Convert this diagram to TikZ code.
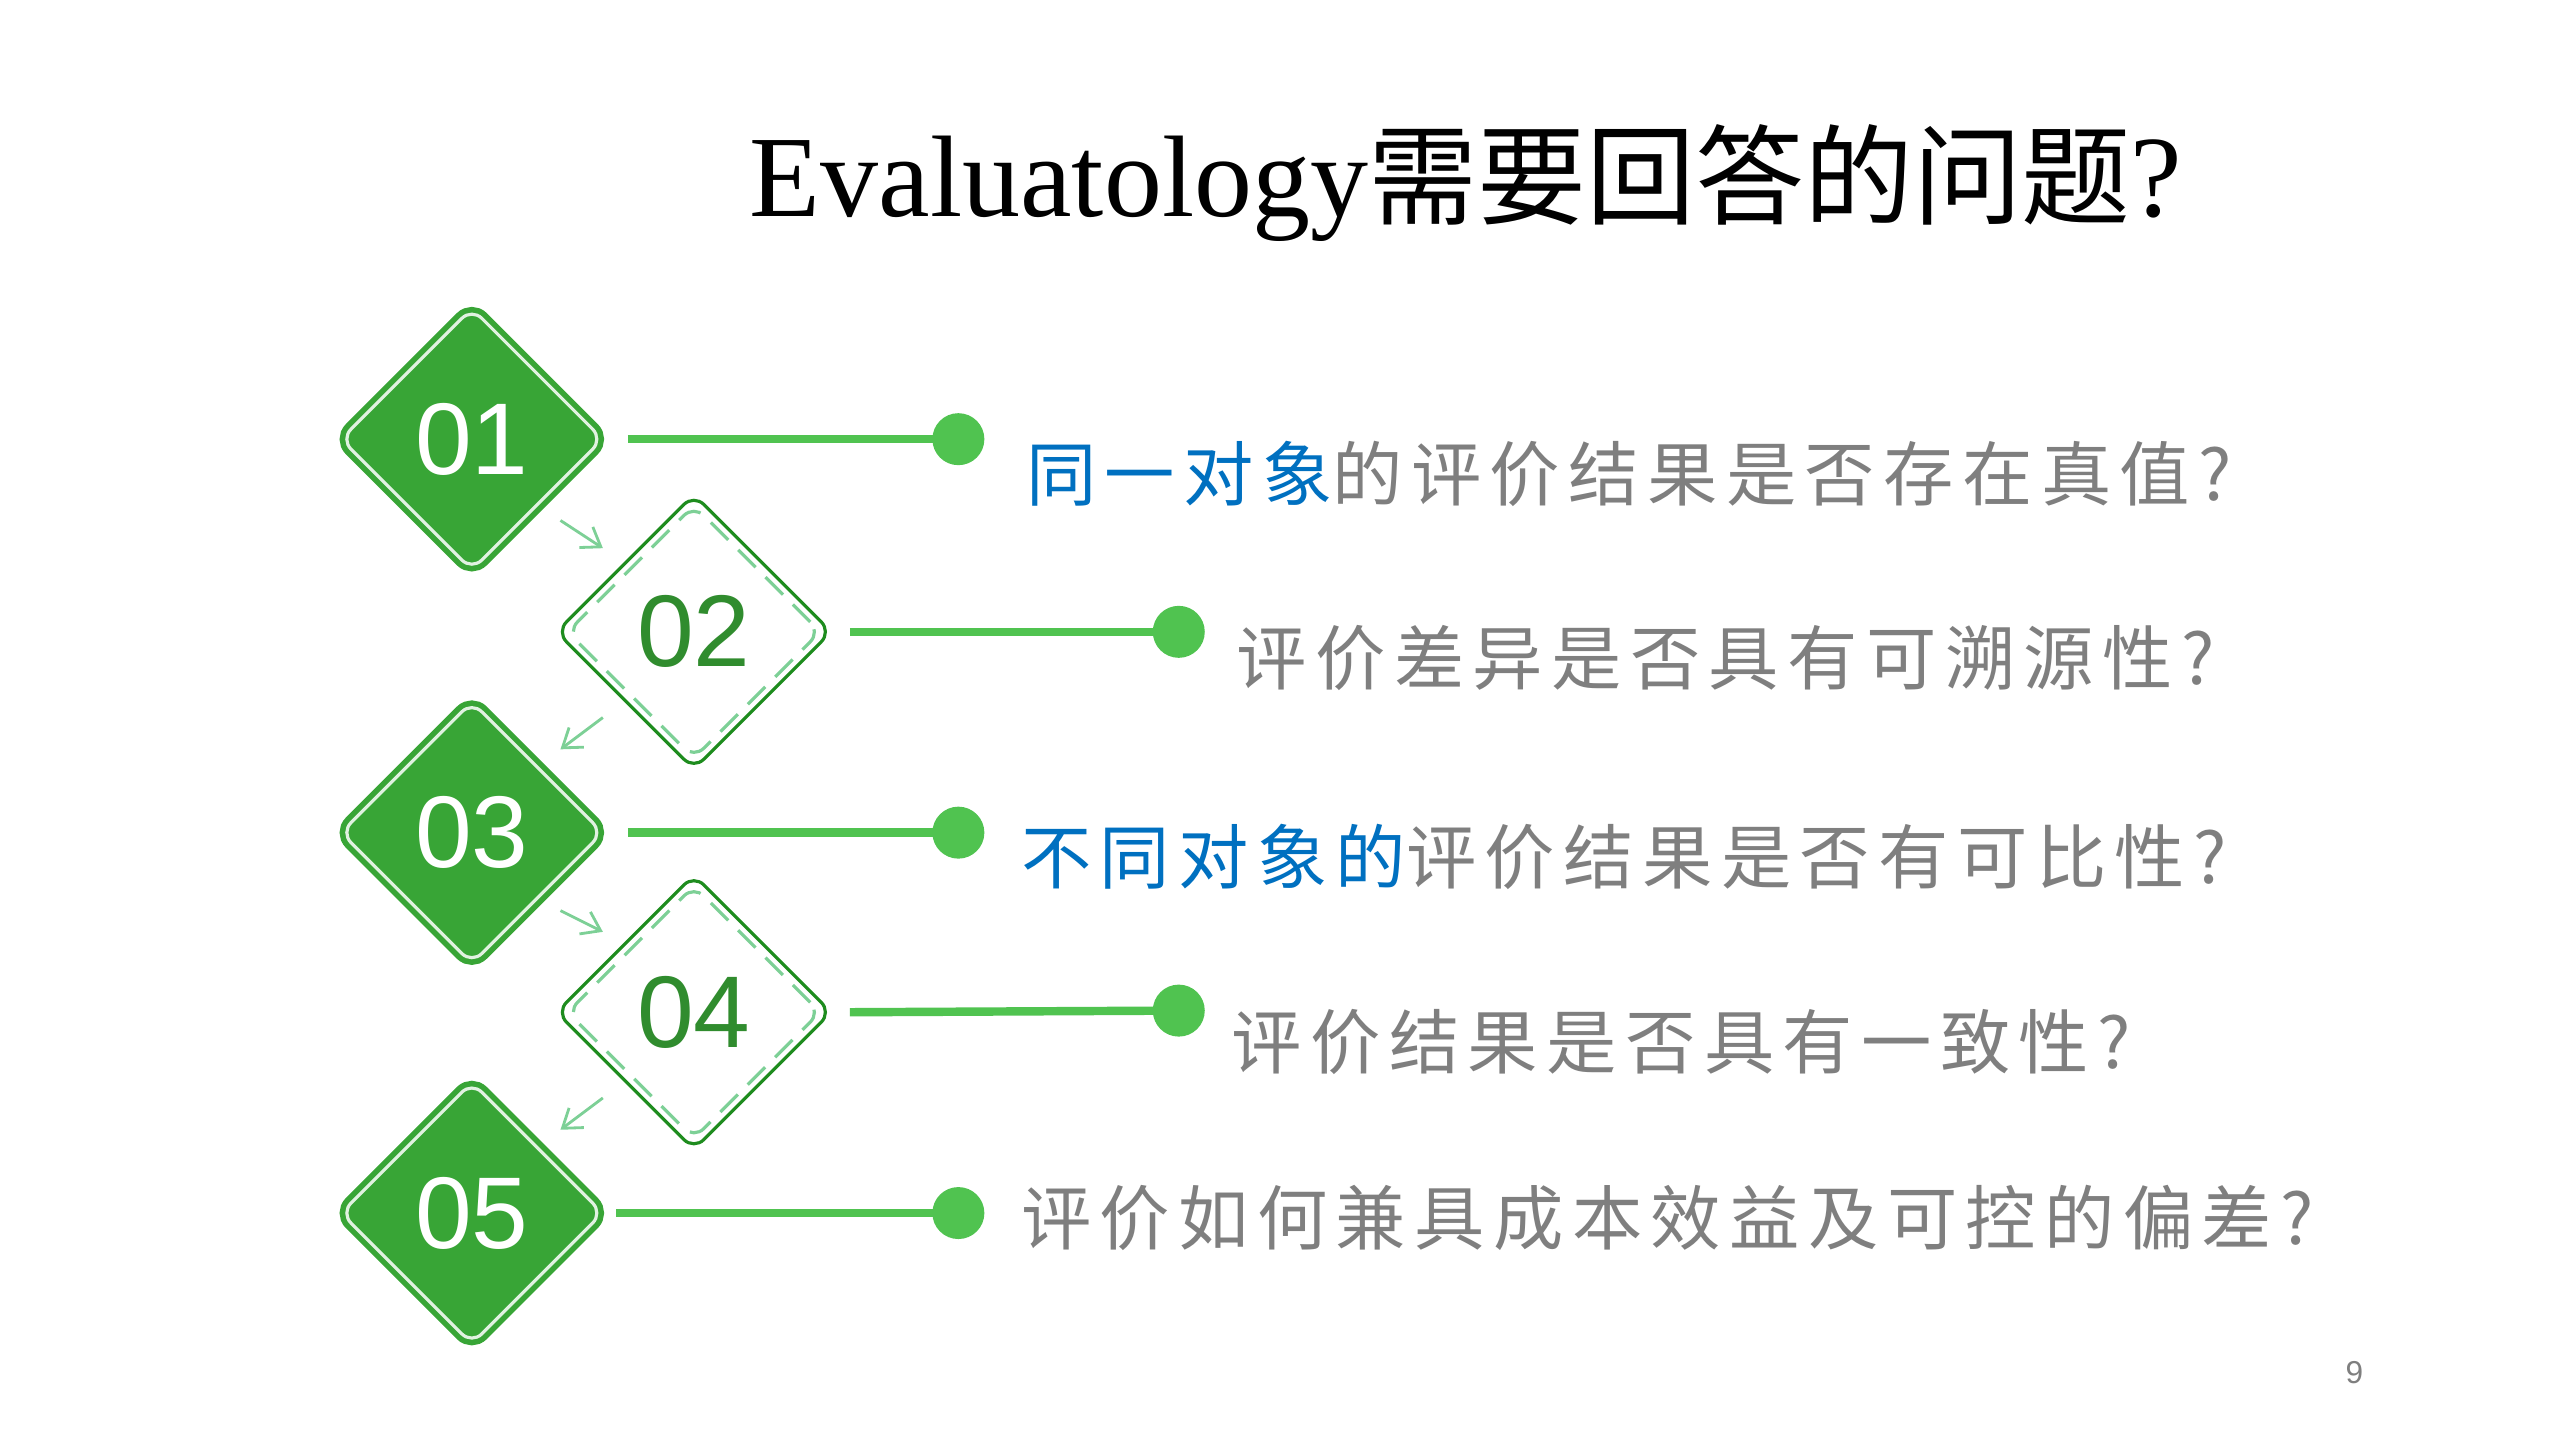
\documentclass[tikz,border=0pt]{standalone}
\usepackage{fontspec}
\setmainfont{Liberation Serif}
\newfontfamily\cjk{Noto Sans CJK SC}
\newfontfamily\cjkspaced[LetterSpace=12]{Noto Sans CJK SC}
\newfontfamily\digits{Liberation Sans}
\usetikzlibrary{positioning,calc,shapes.geometric,arrows.meta}
\definecolor{leaf}{RGB}{56,165,54}
\definecolor{darkleaf}{RGB}{30,140,30}
\definecolor{paleleaf}{RGB}{125,208,150}
\definecolor{lineleaf}{RGB}{80,195,80}
\definecolor{qblue}{RGB}{0,112,192}
\definecolor{qgray}{RGB}{127,127,127}

\begin{document}
\begin{tikzpicture}[
    x=0.16327mm, y=-0.16327mm,
    % node styles
    fullbox/.style = {
      diamond, minimum size=26.4mm, inner sep=0pt,
      rounded corners=4pt, fill=leaf, draw=leaf,
      line width=1.6pt, double=white!85!leaf, double distance=0.9pt,
      font=\digits\fontsize{29}{29}\selectfont, text=white
    },
    openbox/.style = {
      diamond, minimum size=27.6mm, inner sep=0pt,
      rounded corners=4pt, draw=darkleaf, line width=0.9pt, fill=white
    },
    dashbox/.style = {
      diamond, minimum size=25.4mm, inner sep=0pt,
      rounded corners=4pt, draw=paleleaf, line width=0.9pt,
      dash pattern=on 7pt off 4pt
    },
    numtext/.style = {font=\digits\fontsize{29}{29}\selectfont, text=leaf!85!black},
    dot/.style = {circle, fill=lineleaf, minimum size=5.2mm, inner sep=0pt},
    question/.style = {anchor=west, inner sep=0pt,
      font=\cjkspaced\fontsize{20}{20}\selectfont, text=qgray},
    % arrow styles
    bar/.style = {line width=2.4pt, draw=lineleaf},
    step arr/.style = {-{Straight Barb[length=5pt,width=7pt]}, line width=0.8pt, draw=paleleaf}
  ]
  \useasboundingbox (0,0) rectangle (1568,882);

  % --- Title
  \node (title) at (898,112) {\fontsize{33}{33}\selectfont Evaluatology{\cjk\fontsize{31}{31}\selectfont 需要回答的问题}?};

  % --- Diamonds
  \node[fullbox] (d1) at (289,269) {01};
  \node[openbox] (d2) at (425,387) {};
  \node[dashbox] (d2i) at (d2) {};
  \node[numtext] (n2) at (d2) {02};
  \node[fullbox] (d3) at (289,510) {03};
  \node[openbox] (d4) at (425,620) {};
  \node[dashbox] (d4i) at (d4) {};
  \node[numtext] (n4) at (d4) {04};
  \node[fullbox] (d5) at (289,743) {05};

  % --- Dots
  \node[dot] (p1) at (587,269) {};
  \node[dot] (p2) at (722,387) {};
  \node[dot] (p3) at (587,510) {};
  \node[dot] (p4) at (722,619) {};
  \node[dot] (p5) at (587,743) {};

  \draw[bar] ($(d1.east)+(13,0)$) -- (p1.center);
  \draw[bar] ($(d2.east)+(10,0)$) -- (p2.center);
  \draw[bar] ($(d3.east)+(13,0)$) -- (p3.center);
  \draw[bar] ($(d4.east)+(10,0)$) -- (p4.center);
  \draw[bar] ($(d5.east)+(6,0)$) -- (p5.center);

  % --- Questions
  \node[question] (q1) at (628,290) {{\color{qblue}同一对象}的评价结果是否存在真值?};
  \node[question] (q2) at (757,403) {评价差异是否具有可溯源性?};
  \node[question] (q3) at (625,525) {{\color{qblue}不同对象的}评价结果是否有可比性?};
  \node[question] (q4) at (754,638) {评价结果是否具有一致性?};
  \node[question] (q5) at (625,746) {评价如何兼具成本效益及可控的偏差?};

  % --- Small arrows
  \draw[step arr] ($(d1.south east)!0.25!(d2.north west)$) -- ($(d1.south east)!0.75!(d2.north west)$);
  \draw[step arr] ($(d2.south west)!0.25!(d3.north east)$) -- ($(d2.south west)!0.75!(d3.north east)$);
  \draw[step arr] ($(d3.south east)!0.25!(d4.north west)$) -- ($(d3.south east)!0.75!(d4.north west)$);
  \draw[step arr] ($(d4.south west)!0.25!(d5.north east)$) -- ($(d4.south west)!0.75!(d5.north east)$);

  \node[text=qgray, font=\digits\fontsize{9}{9}\selectfont] (pg) at (1442,841) {9};
\end{tikzpicture}
\end{document}
